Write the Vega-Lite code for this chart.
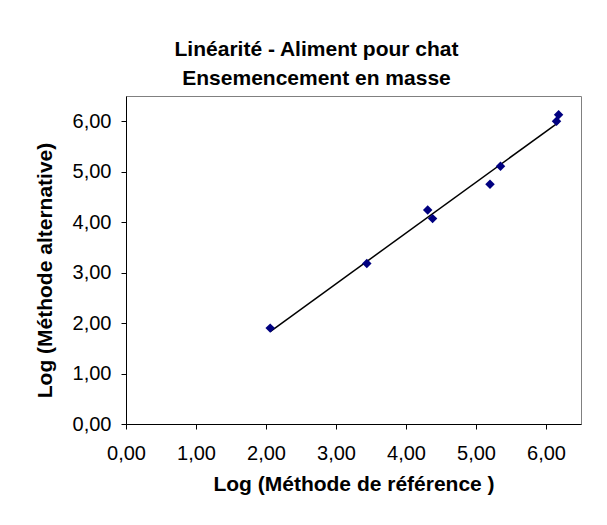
{
  "$schema": "https://vega.github.io/schema/vega-lite/v6.json",
  "width": 455,
  "height": 328,
  "autosize": {"type": "none"},
  "padding": {"left": 126, "top": 96, "right": 26, "bottom": 101},
  "background": "white",
  "title": {
    "text": ["Linéarité - Aliment pour chat", "Ensemencement en masse"],
    "font": "Liberation Sans",
    "fontSize": 21,
    "fontWeight": "bold",
    "color": "black",
    "lineHeight": 29,
    "anchor": "middle",
    "frame": "group",
    "dx": -37,
    "offset": 7
  },
  "data": {
    "values": [
      {"ref": 2.06, "alt": 1.90},
      {"ref": 3.44, "alt": 3.18},
      {"ref": 4.31, "alt": 4.24},
      {"ref": 4.38, "alt": 4.07},
      {"ref": 5.20, "alt": 4.75},
      {"ref": 5.35, "alt": 5.11},
      {"ref": 6.15, "alt": 6.00},
      {"ref": 6.18, "alt": 6.13}
    ]
  },
  "config": {
    "view": {"stroke": "#808080", "strokeWidth": 1},
    "axis": {
      "labelFont": "Liberation Sans",
      "labelFontSize": 20,
      "labelColor": "black",
      "labelFlush": false,
      "labelOverlap": false,
      "titleFont": "Liberation Sans",
      "titleFontSize": 21,
      "titleFontWeight": "bold",
      "titleColor": "black",
      "domainColor": "black",
      "tickColor": "black",
      "tickSize": 5,
      "grid": false
    }
  },
  "encoding": {
    "x": {
      "field": "ref",
      "type": "quantitative",
      "scale": {"domain": [0, 6.5], "nice": false, "zero": false},
      "axis": {
        "values": [0, 1, 2, 3, 4, 5, 6],
        "labelExpr": "replace(format(datum.value, '.2f'), '.', ',')",
        "title": "Log (Méthode de référence )",
        "labelPadding": 14,
        "titlePadding": 10
      }
    },
    "y": {
      "field": "alt",
      "type": "quantitative",
      "scale": {"domain": [0, 6.5], "nice": false, "zero": false},
      "axis": {
        "values": [0, 1, 2, 3, 4, 5, 6],
        "labelExpr": "replace(format(datum.value, '.2f'), '.', ',')",
        "title": "Log (Méthode alternative)",
        "labelPadding": 10,
        "titlePadding": 17,
        "titleY": 174
      }
    }
  },
  "layer": [
    {
      "transform": [{"regression": "alt", "on": "ref"}],
      "mark": {"type": "line", "color": "black", "strokeWidth": 1.5}
    },
    {
      "mark": {"type": "point", "shape": "diamond", "filled": true, "color": "#000080", "size": 90, "opacity": 1}
    }
  ]
}
